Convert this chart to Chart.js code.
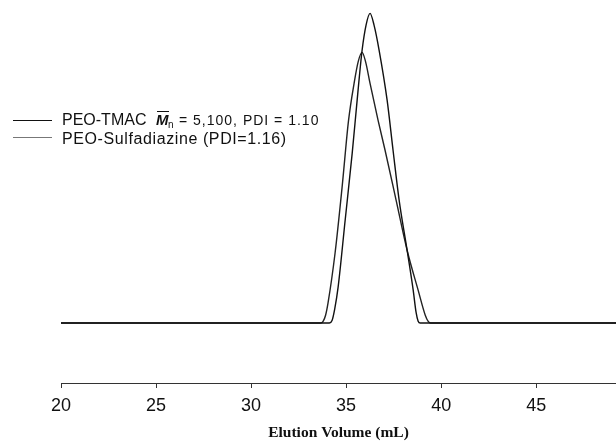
<!DOCTYPE html>
<html lang="en">
  <head>
    <meta charset="UTF-8" />
    <title>Elution profiles</title>
    <style>
      html, body { margin: 0; padding: 0; background: #fff; }
      #wrap { width: 616px; height: 441px; }
    </style>
  </head>
  <body>
    <div id="wrap"><canvas id="lienzo"></canvas></div>
    <script src="https://cdn.jsdelivr.net/npm/chart.js"></script>
    <script>
      // values (elution volume in mL, detector signal normalised)
      const tmacVolume = [20, 34.12, 34.26, 34.40, 34.58, 34.95, 35.32, 35.58, 35.84, 36.05, 36.26, 36.47, 36.74, 37.16, 37.47, 37.79, 38.21, 38.53, 38.68, 38.79, 38.90, 49.2];
      const tmacSignal = [0, 0, 0.008, 0.045, 0.116, 0.332, 0.548, 0.719, 0.880, 0.962, 1.0, 0.962, 0.880, 0.719, 0.558, 0.397, 0.235, 0.106, 0.035, 0.006, 0, 0];

      const sulfaVolume = [20, 33.66, 33.79, 33.92, 34.05, 34.42, 34.79, 35.13, 35.42, 35.64, 35.84, 36.02, 36.26, 36.68, 37.05, 37.63, 38.21, 38.79, 39.16, 39.32, 39.45, 49.2];
      const sulfaSignal = [0, 0, 0.005, 0.025, 0.065, 0.226, 0.439, 0.655, 0.774, 0.845, 0.874, 0.845, 0.774, 0.655, 0.558, 0.397, 0.235, 0.106, 0.026, 0.005, 0, 0];

      const xTicks = [20, 25, 30, 35, 40, 45];

      const toPoints = (xs, ys) => xs.map((x, i) => ({ x: x, y: ys[i] }));

      // legend drawn by hand, the first entry mixes fonts
      const leyenda = {
        id: "leyenda",
        afterDraw(chart) {
          const ctx = chart.ctx;
          ctx.save();
          ctx.strokeStyle = "#111";
          ctx.lineWidth = 1;
          ctx.beginPath();
          ctx.moveTo(13, 120.5);
          ctx.lineTo(52, 120.5);
          ctx.stroke();
          ctx.strokeStyle = "#777";
          ctx.beginPath();
          ctx.moveTo(13, 137.5);
          ctx.lineTo(52, 137.5);
          ctx.stroke();

          ctx.fillStyle = "#111";
          ctx.textBaseline = "alphabetic";
          ctx.font = "16px 'Liberation Sans', Arial, sans-serif";
          ctx.fillText("PEO-TMAC", 62, 125);
          ctx.font = "bold italic 15px 'Liberation Sans', Arial, sans-serif";
          ctx.fillText("M", 156, 125);
          ctx.fillRect(157, 111, 12, 1);
          ctx.font = "10px 'Liberation Sans', Arial, sans-serif";
          ctx.fillText("n", 168, 128);
          ctx.font = "14px 'Liberation Sans', Arial, sans-serif";
          ctx.letterSpacing = "1px";
          ctx.fillText("= 5,100, PDI = 1.10", 179, 125);
          ctx.font = "16px 'Liberation Sans', Arial, sans-serif";
          ctx.letterSpacing = "0.6px";
          ctx.fillText("PEO-Sulfadiazine (PDI=1.16)", 62, 144);
          ctx.restore();
        },
      };

      const contexto = document.querySelector("#lienzo");
      const grafico = new Chart(contexto, {
        type: "line",
        data: {
          datasets: [
            {
              label: "PEO-TMAC Mn = 5,100, PDI = 1.10",
              data: toPoints(tmacVolume, tmacSignal),
              borderColor: "#111",
              borderWidth: 1.4,
              pointRadius: 0,
              cubicInterpolationMode: "monotone",
            },
            {
              label: "PEO-Sulfadiazine (PDI=1.16)",
              data: toPoints(sulfaVolume, sulfaSignal),
              borderColor: "#222",
              borderWidth: 1.4,
              pointRadius: 0,
              cubicInterpolationMode: "monotone",
            },
          ],
        },
        options: {
          responsive: true,
          maintainAspectRatio: false,
          animation: false,
          layout: { padding: { left: 61, right: 0, top: 1, bottom: 0 } },
          plugins: { legend: { display: false }, tooltip: { enabled: false } },
          scales: {
            x: {
              type: "linear",
              min: 20,
              max: 49.2,
              afterFit(scale) {
                scale.height = 58;
              },
              afterBuildTicks(scale) {
                scale.ticks = xTicks.map((v) => ({ value: v }));
              },
              border: { display: true, color: "#333", width: 1 },
              grid: { display: true, drawOnChartArea: false, drawTicks: true, tickLength: 5, color: "#333" },
              ticks: {
                color: "#111",
                padding: 7,
                maxRotation: 0,
                font: { family: "'Liberation Sans', Arial, sans-serif", size: 18 },
              },
              title: {
                display: true,
                text: "Elution Volume (mL)",
                color: "#111",
                padding: { top: 0, bottom: 0 },
                font: { family: "'Liberation Serif', 'Times New Roman', serif", size: 15.5, weight: "bold", lineHeight: 1 },
              },
            },
            y: {
              display: false,
              min: -0.1938,
              max: 1.04,
            },
          },
        },
        plugins: [leyenda],
      });
    </script>
  </body>
</html>
